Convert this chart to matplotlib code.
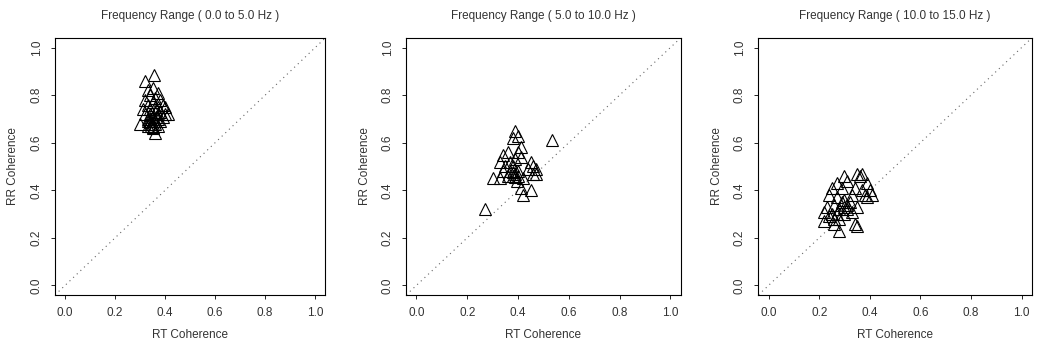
import matplotlib
matplotlib.use("Agg")
from matplotlib import pyplot as plt

titles = ["Frequency Range ( 0.0 to 5.0 Hz )",
          "Frequency Range ( 5.0 to 10.0 Hz )",
          "Frequency Range ( 10.0 to 15.0 Hz )"]

# panel 1 : 0-5 Hz
rt_1 = [0.355, 0.32, 0.33, 0.35, 0.37, 0.34, 0.36, 0.32, 0.38, 0.35, 0.33, 0.39, 0.40,
        0.37, 0.31, 0.34, 0.36, 0.38, 0.41, 0.32, 0.35, 0.33, 0.37, 0.39, 0.30, 0.34,
        0.36, 0.33, 0.35, 0.37, 0.36, 0.345, 0.355, 0.34, 0.36, 0.40, 0.38, 0.35,
        0.34, 0.36, 0.35, 0.33, 0.37, 0.345, 0.365]
rr_1 = [0.885, 0.86, 0.82, 0.83, 0.81, 0.80, 0.79, 0.78, 0.78, 0.77, 0.76, 0.76, 0.75,
        0.75, 0.74, 0.74, 0.73, 0.73, 0.72, 0.72, 0.71, 0.70, 0.70, 0.71, 0.68, 0.69,
        0.68, 0.67, 0.66, 0.67, 0.64, 0.68, 0.70, 0.72, 0.75, 0.72, 0.69, 0.665,
        0.70, 0.69, 0.68, 0.69, 0.72, 0.67, 0.71]

# panel 2 : 5-10 Hz
rt_2 = [0.27, 0.535, 0.39, 0.40, 0.38, 0.41, 0.40, 0.36, 0.34, 0.41, 0.39, 0.33, 0.37,
        0.45, 0.35, 0.38, 0.46, 0.47, 0.34, 0.37, 0.39, 0.40, 0.44, 0.46, 0.30, 0.33,
        0.36, 0.38, 0.40, 0.42, 0.47, 0.395, 0.41, 0.45, 0.42, 0.38, 0.39]
rr_2 = [0.32, 0.61, 0.65, 0.63, 0.62, 0.58, 0.56, 0.56, 0.55, 0.54, 0.53, 0.52, 0.52,
        0.52, 0.50, 0.50, 0.50, 0.49, 0.48, 0.48, 0.47, 0.48, 0.49, 0.47, 0.45, 0.45,
        0.46, 0.46, 0.46, 0.45, 0.47, 0.44, 0.41, 0.40, 0.38, 0.475, 0.455]

# panel 3 : 10-15 Hz
rt_3 = [0.30, 0.35, 0.37, 0.31, 0.36, 0.27, 0.39, 0.25, 0.29, 0.34, 0.37, 0.40, 0.41,
        0.38, 0.24, 0.27, 0.30, 0.33, 0.39, 0.29, 0.31, 0.23, 0.26, 0.35, 0.28, 0.31,
        0.33, 0.22, 0.25, 0.27, 0.30, 0.24, 0.26, 0.28, 0.22, 0.26, 0.34, 0.35, 0.28,
        0.30, 0.32]
rr_3 = [0.46, 0.47, 0.47, 0.44, 0.46, 0.43, 0.43, 0.41, 0.41, 0.41, 0.40, 0.40, 0.38,
        0.38, 0.38, 0.37, 0.36, 0.38, 0.37, 0.35, 0.34, 0.33, 0.34, 0.33, 0.32, 0.32,
        0.31, 0.31, 0.30, 0.30, 0.30, 0.29, 0.28, 0.28, 0.27, 0.26, 0.26, 0.25, 0.23,
        0.33, 0.35]

ticks = [0.0, 0.2, 0.4, 0.6, 0.8, 1.0]
tick_labels = ["0.0", "0.2", "0.4", "0.6", "0.8", "1.0"]

plt.rcParams['font.family'] = ['Liberation Sans', 'DejaVu Sans']
txt = '#333333'

fig = plt.figure(figsize=(10.39, 3.49), dpi=100)
lefts = [0.053, 0.391, 0.730]
widths = [0.260, 0.264, 0.263]
data = [(rt_1, rr_1), (rt_2, rr_2), (rt_3, rr_3)]

for i in range(3):
    ax = fig.add_axes([lefts[i], 0.155, widths[i], 0.736])
    ax.plot([-0.04, 1.04], [-0.04, 1.04], linestyle=(0, (1, 3.5)), color='#666666', lw=0.8)
    ax.plot(data[i][0], data[i][1], linestyle='none', marker='^', markersize=8.5,
            markerfacecolor='none', markeredgecolor='black', markeredgewidth=0.8)
    ax.set_xlim(-0.04, 1.04)
    ax.set_ylim(-0.04, 1.04)
    ax.set_xticks(ticks)
    ax.set_xticklabels(tick_labels, fontsize=8.5, color=txt)
    ax.set_yticks(ticks)
    ax.set_yticklabels(tick_labels, fontsize=8.5, color=txt, rotation=90, va='center')
    ax.tick_params(direction='out', length=3, width=0.6, pad=6)
    for s in ax.spines.values():
        s.set_linewidth(0.8)
    ax.set_xlabel('RT Coherence', fontsize=8.5, color=txt, labelpad=7)
    ax.set_ylabel('RR Coherence', fontsize=8.5, color=txt, labelpad=8)
    ax.set_title(titles[i], fontsize=8.5, color=txt, pad=14)

fig.savefig('out.png', dpi=100)
